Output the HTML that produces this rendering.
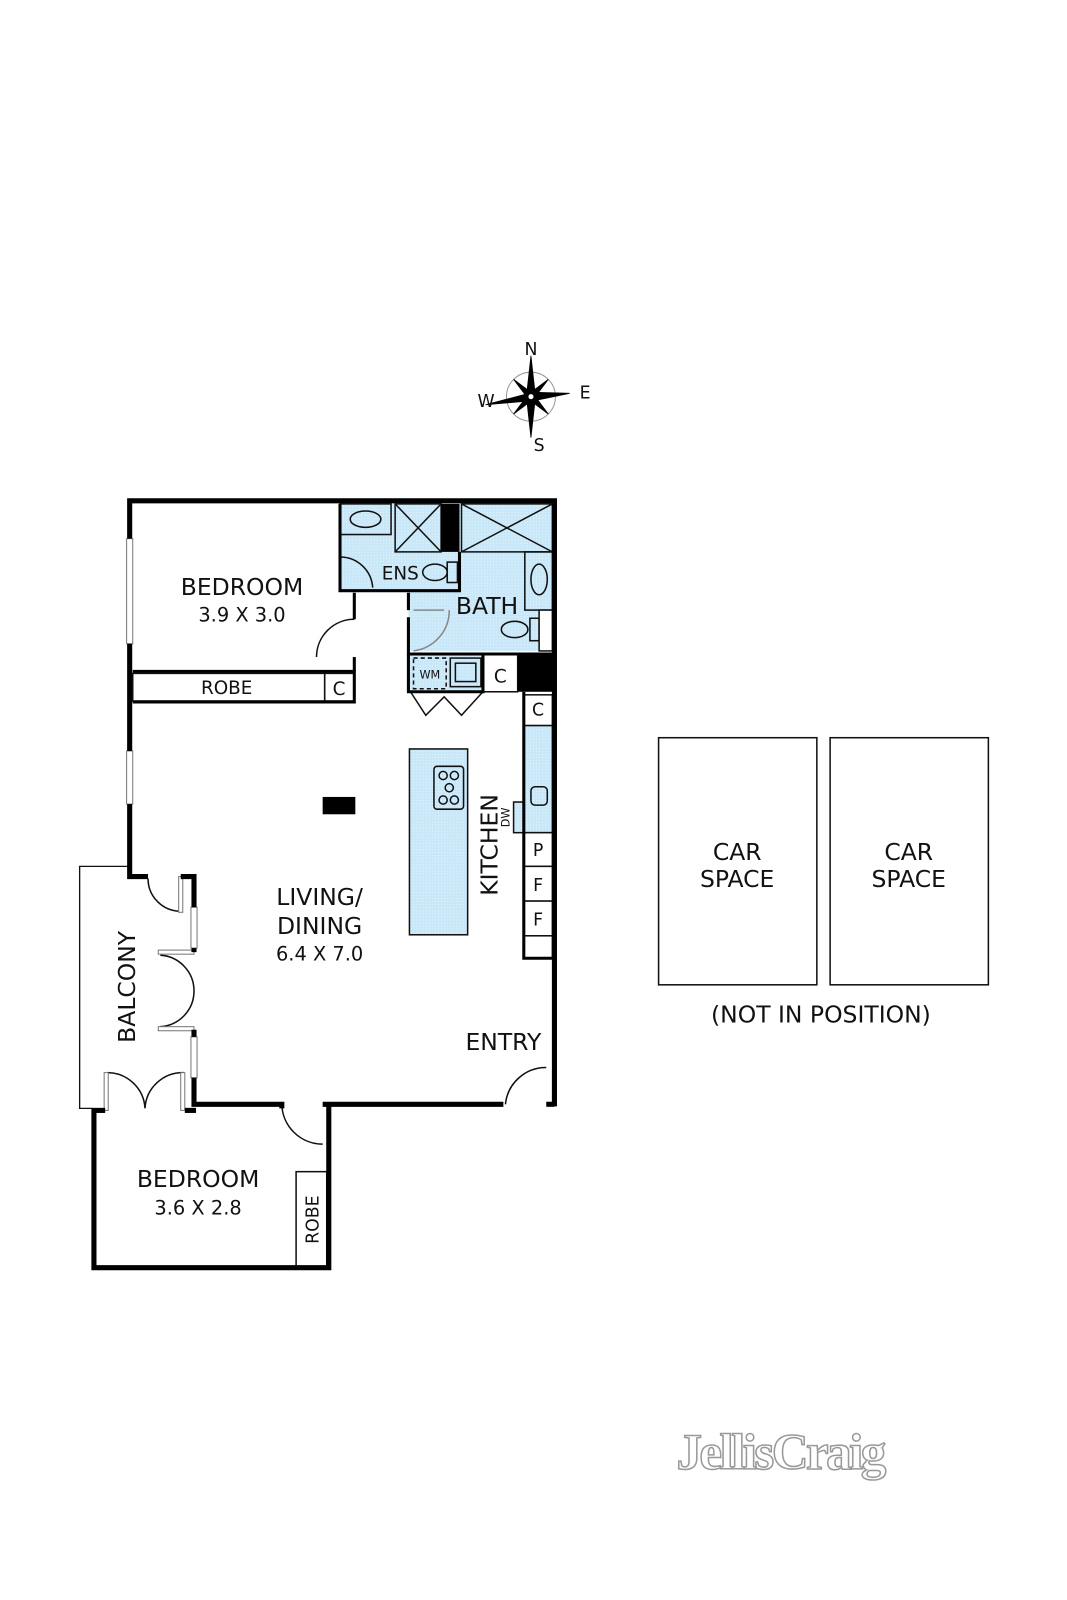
<!DOCTYPE html>
<html><head><meta charset="utf-8"><style>
html,body{margin:0;padding:0;background:#fff;}
svg{display:block;}
text{font-family:"DejaVu Sans","Liberation Sans",sans-serif;fill:#111;}
</style></head><body>
<svg width="1067" height="1600" viewBox="0 0 1045 1566" xmlns="http://www.w3.org/2000/svg">
<defs>
<pattern id="b" width="3" height="3" patternUnits="userSpaceOnUse"><rect width="3" height="3" fill="#c8e7f8"/><rect width="1" height="1" fill="#e8f5fc"/></pattern>
</defs>
<!-- compass -->
<g transform="translate(520,388)">
<circle r="24" fill="none" stroke="#999" stroke-width="1"/>
<g fill="#000" stroke="#000" stroke-width="0.8">
<polygon points="0,-40 4,-4 0,0 -4,-4"/>
<polygon points="0,40 4,4 0,0 -4,4"/>
<polygon points="-45,4 -4,-3 0,0 -4,4" transform="rotate(-5)"/>
<polygon points="38,0 4,-4 0,0 4,4" transform="rotate(-5)"/>
<polygon points="0,-24 3,-3 0,0 -3,-3" transform="rotate(45)"/>
<polygon points="0,-24 3,-3 0,0 -3,-3" transform="rotate(135)"/>
<polygon points="0,-24 3,-3 0,0 -3,-3" transform="rotate(225)"/>
<polygon points="0,-24 3,-3 0,0 -3,-3" transform="rotate(315)"/>
</g>
<circle r="3" fill="#fff" stroke="#000"/>
</g>
<text x="520" y="347" font-size="17" text-anchor="middle">N</text>
<text x="476" y="398" font-size="17" text-anchor="middle">W</text>
<text x="573" y="390" font-size="17" text-anchor="middle">E</text>
<text x="528" y="441" font-size="17" text-anchor="middle">S</text>

<!-- blue wet areas -->
<rect x="333" y="493" width="117" height="85" fill="url(#b)"/>
<rect x="450" y="493" width="93" height="144" fill="url(#b)"/>
<rect x="400" y="540" width="60" height="97" fill="url(#b)"/>
<rect x="400" y="640" width="73" height="37" fill="url(#b)"/>
<rect x="513" y="710" width="28" height="105" fill="url(#b)" stroke="#111" stroke-width="1.5"/>
<rect x="401" y="733" width="57" height="182" fill="url(#b)" stroke="#111" stroke-width="1.5"/>

<g fill="none" stroke="#111" stroke-width="1.5">
<rect x="333" y="493" width="50" height="30"/>
<ellipse cx="358" cy="508" rx="15" ry="8"/>
<rect x="387" y="493" width="45" height="47"/>
<line x1="387" y1="493" x2="432" y2="540"/><line x1="432" y1="493" x2="387" y2="540"/>
<ellipse cx="426" cy="560" rx="12" ry="8"/><rect x="438" y="550" width="10" height="20"/>
<path d="M333,545 A32,32 0 0 1 365,575"/>
<rect x="452" y="493" width="89" height="47"/>
<line x1="452" y1="493" x2="541" y2="540"/><line x1="541" y1="493" x2="452" y2="540"/>
<rect x="514" y="540" width="27" height="57"/><ellipse cx="528" cy="567" rx="8" ry="15"/>
<ellipse cx="504" cy="616" rx="13" ry="8"/><rect x="519" y="605" width="9" height="22"/>
<rect x="528" y="597" width="13" height="40" fill="#fff"/>
<path d="M405,597 L435,597 M440,597 A40,40 0 0 1 405,637" stroke="#888"/>
<rect x="405" y="644" width="32" height="30" stroke-dasharray="4,3"/>
<rect x="441" y="644" width="30" height="28"/><rect x="446" y="649" width="20" height="18"/>
<path d="M402,677 L417,700 L435,682 L452,700 L473,677"/>
<rect x="473" y="640" width="34" height="37" fill="#fff"/>
<rect x="513" y="680" width="28" height="30" fill="#fff"/>
<rect x="520" y="770" width="16" height="18" rx="4"/>
<rect x="503" y="785" width="10" height="30" fill="url(#b)"/>
<rect x="513" y="815" width="28" height="33" fill="#fff"/>
<rect x="513" y="848" width="28" height="34" fill="#fff"/>
<rect x="513" y="882" width="28" height="34" fill="#fff"/>
<rect x="513" y="916" width="28" height="22" fill="#fff"/>
<rect x="425" y="750" width="29" height="42" rx="3"/>
<circle cx="434" cy="759" r="4"/><circle cx="445" cy="759" r="4"/><circle cx="440" cy="771" r="4"/><circle cx="434" cy="783" r="4"/><circle cx="445" cy="783" r="4"/>
<rect x="130" y="659" width="188" height="27"/>
<rect x="318" y="659" width="29" height="27"/>
<rect x="290" y="1147" width="30" height="94"/>
<path d="M310,643 A37,37 0 0 1 347,606"/>
<path d="M145,860 A32,32 0 0 0 177,892"/>
<path d="M157,935 A35,35 0 0 1 190,970 A35,35 0 0 1 157,1005"/>
<path d="M105,1050 A37,37 0 0 1 142,1085 A37,37 0 0 1 180,1050"/>
<path d="M276,1081 A40,40 0 0 0 316,1120"/>
<path d="M495,1081 A40,40 0 0 1 535,1045"/>
<path d="M127,848 L78,848 L78,1085 L92,1085" stroke-width="1.3"/>
<rect x="645" y="722" width="155" height="242"/>
<rect x="813" y="722" width="155" height="242"/>
</g>
<g fill="#fff" stroke="#777" stroke-width="1">
<rect x="124" y="527" width="6" height="103"/>
<rect x="124" y="735" width="6" height="52"/>
<rect x="175" y="858" width="4" height="35"/>
<rect x="187" y="888" width="6" height="40"/>
<rect x="155" y="930" width="35" height="4"/>
<rect x="155" y="1005" width="35" height="4"/>
<rect x="187" y="1015" width="6" height="40"/>
<rect x="102" y="1050" width="4" height="37"/>
<rect x="177" y="1050" width="4" height="37"/>
</g>
<g fill="none" stroke="#000" stroke-width="5" stroke-linejoin="miter">
<path d="M127,527 L127,490 L543,490 L543,1083"/>
<path d="M127,630 L127,735"/>
<path d="M127,787 L127,858 L145,858"/>
<path d="M177,858 L190,858 L190,888"/>
<path d="M190,928 L190,932"/>
<path d="M190,1008 L190,1015"/>
<path d="M190,1055 L190,1081 L276,1081 L276,1085"/>
<path d="M316,1081 L493,1081"/>
<path d="M535,1081 L543,1081"/>
<path d="M92,1085 L92,1241 L322,1241 L322,1081"/>
<path d="M92,1087 L103,1087"/><path d="M181,1087 L192,1087"/>
</g>
<g fill="none" stroke="#000" stroke-width="3">
<path d="M130,657 L347,657 L347,687 L130,687"/>
<path d="M347,643 L347,657"/>
<path d="M347,606 L347,580 M333,493 L333,578 L450,578 L450,540"/>
<path d="M400,597 L400,580 M400,604 L400,640 L543,640"/>
<path d="M400,640 L400,677 L473,677 L473,640"/>
<path d="M513,677 L513,938 L541,938"/>
</g>
<rect x="432" y="493" width="18" height="47" fill="#000"/>
<rect x="507" y="640" width="36" height="37" fill="#000"/>
<rect x="316" y="780" width="32" height="17" fill="#000"/>

<text x="237" y="582" font-size="23" text-anchor="middle">BEDROOM</text>
<text x="237" y="608" font-size="19" text-anchor="middle">3.9 X 3.0</text>
<text x="222" y="679" font-size="18" text-anchor="middle">ROBE</text>
<text x="332" y="680" font-size="18" text-anchor="middle">C</text>
<text x="392" y="567" font-size="18" text-anchor="middle">ENS</text>
<text x="477" y="601" font-size="23" text-anchor="middle">BATH</text>
<text x="421" y="664" font-size="11" text-anchor="middle">WM</text>
<text x="490" y="668" font-size="18" text-anchor="middle">C</text>
<text x="527" y="700" font-size="17" text-anchor="middle">C</text>
<text x="527" y="838" font-size="17" text-anchor="middle">P</text>
<text x="527" y="872" font-size="17" text-anchor="middle">F</text>
<text x="527" y="906" font-size="17" text-anchor="middle">F</text>
<text transform="translate(487,827) rotate(-90)" font-size="23" text-anchor="middle">KITCHEN</text>
<text transform="translate(499,800) rotate(-90)" font-size="11" text-anchor="middle">DW</text>
<text x="313" y="886" font-size="23" text-anchor="middle">LIVING/</text>
<text x="313" y="914" font-size="23" text-anchor="middle">DINING</text>
<text x="313" y="940" font-size="19" text-anchor="middle">6.4 X 7.0</text>
<text transform="translate(132,966) rotate(-90)" font-size="23" text-anchor="middle">BALCONY</text>
<text x="493" y="1028" font-size="23" text-anchor="middle">ENTRY</text>
<text x="194" y="1162" font-size="23" text-anchor="middle">BEDROOM</text>
<text x="194" y="1189" font-size="19" text-anchor="middle">3.6 X 2.8</text>
<text transform="translate(312,1194) rotate(-90)" font-size="17" text-anchor="middle">ROBE</text>
<text x="722" y="842" font-size="23" text-anchor="middle">CAR</text>
<text x="722" y="868" font-size="23" text-anchor="middle">SPACE</text>
<text x="890" y="842" font-size="23" text-anchor="middle">CAR</text>
<text x="890" y="868" font-size="23" text-anchor="middle">SPACE</text>
<text x="804" y="1001" font-size="23" text-anchor="middle">(NOT IN POSITION)</text>
<text x="764" y="1438" font-size="50" text-anchor="middle" style="font-family:'Liberation Serif',serif;fill:#fff;stroke:#999;stroke-width:1.5;font-weight:bold;letter-spacing:-2.5px">JellisCraig</text>
</svg>
</body></html>
